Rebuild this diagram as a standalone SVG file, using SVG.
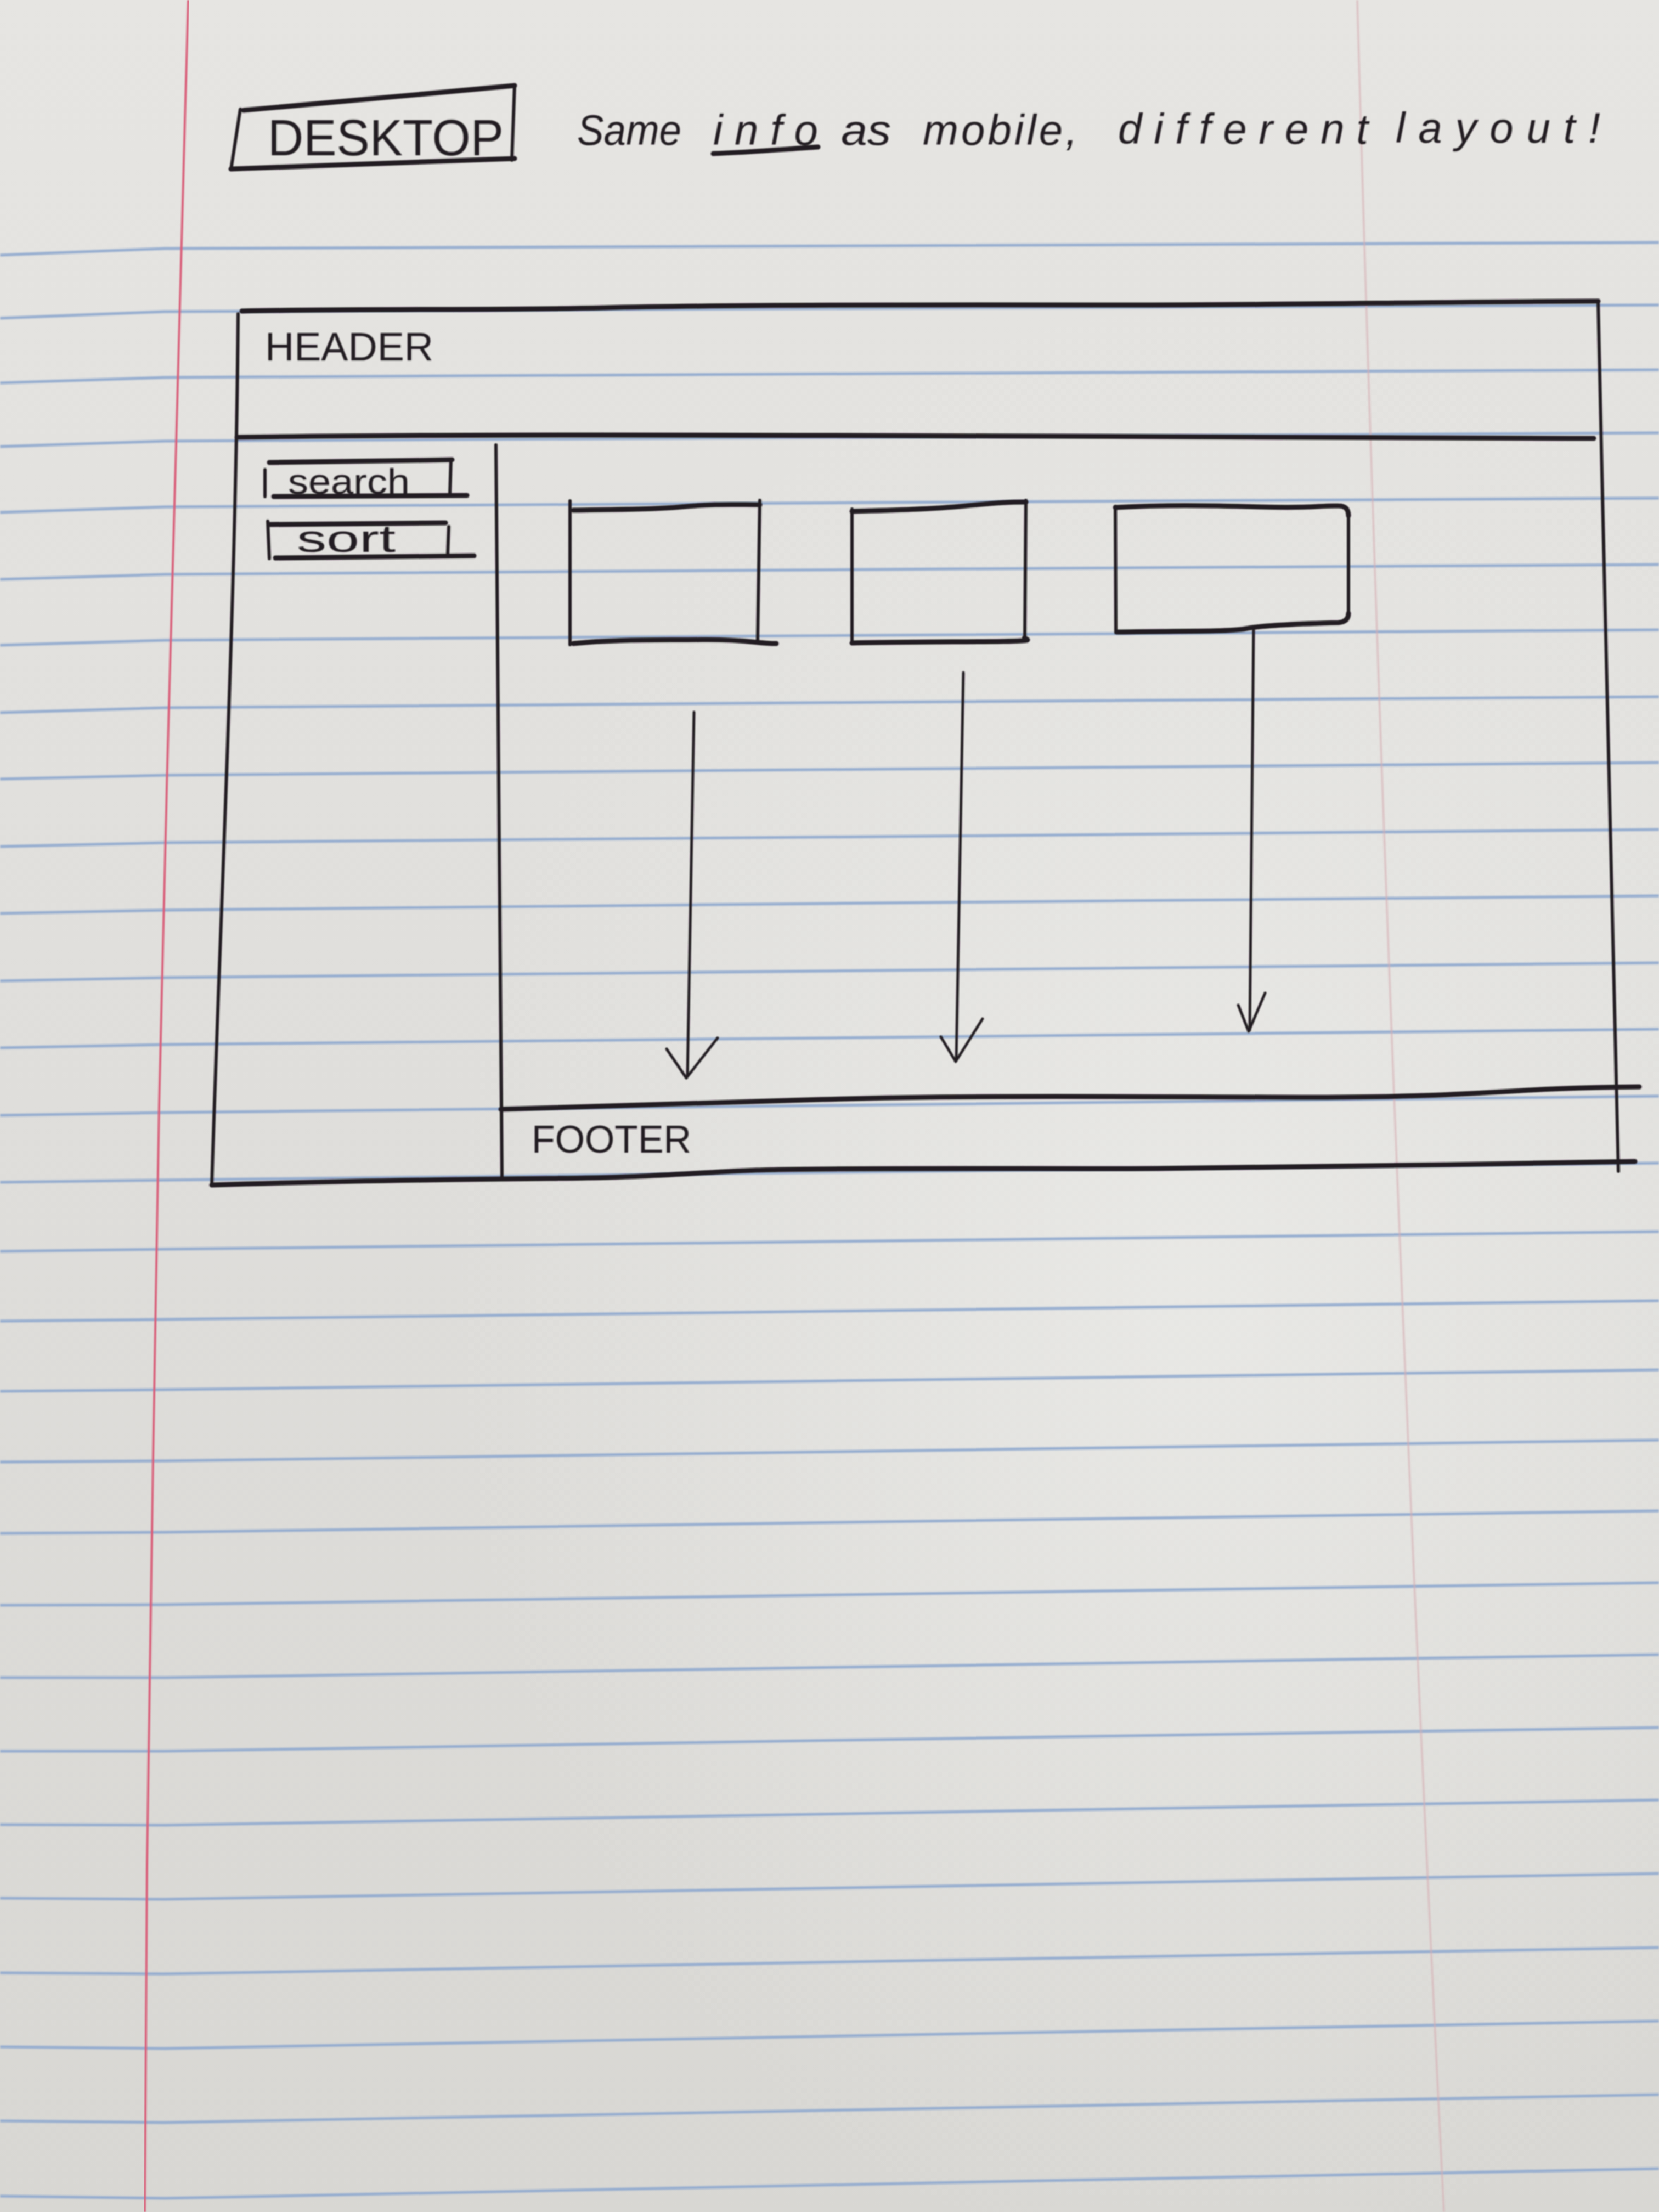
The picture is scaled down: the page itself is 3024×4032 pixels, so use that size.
<svg xmlns="http://www.w3.org/2000/svg" width="3024" height="4032" viewBox="0 0 3024 4032">
  <defs>
    <linearGradient id="paperShade" x1="0" y1="0" x2="0" y2="1">
      <stop offset="0" stop-color="#e6e5e2"/>
      <stop offset="0.5" stop-color="#dfdedb"/>
      <stop offset="1" stop-color="#d8d7d3"/>
    </linearGradient>
    <radialGradient id="paperGlow" cx="0.72" cy="0.58" r="0.45">
      <stop offset="0" stop-color="#ebebe8" stop-opacity="0.8"/>
      <stop offset="1" stop-color="#ebebe8" stop-opacity="0"/>
    </radialGradient>
    <filter id="soft" x="-2%" y="-2%" width="104%" height="104%">
      <feGaussianBlur stdDeviation="1.2"/>
    </filter>
    <filter id="softer" x="-2%" y="-2%" width="104%" height="104%">
      <feGaussianBlur stdDeviation="1.8"/>
    </filter>
  </defs>
  <style>
    .rule { fill: none; stroke: #93abcf; stroke-width: 5; stroke-linejoin: round; }
    .margin { fill: none; stroke: #d9617a; stroke-width: 4; }
    .margin-faint { fill: none; stroke: #d6aeb3; stroke-width: 3; opacity: 0.75; }
    .ink { fill: none; stroke: #221e20; stroke-linecap: round; stroke-linejoin: round; }
    .h { stroke-width: 9; }
    .v { stroke-width: 6; }
    .arrow { fill: none; stroke: #221e20; stroke-width: 5; stroke-linecap: round; stroke-linejoin: round; }
    .hand { font-family: "Liberation Sans", "DejaVu Sans", sans-serif; fill: #221e20; }
    .note { font-size: 78px; font-style: italic; }
  </style>

  <!-- paper -->
  <g id="paper">
    <rect x="0" y="0" width="3024" height="4032" fill="url(#paperShade)"/>
    <rect x="0" y="0" width="3024" height="4032" fill="url(#paperGlow)"/>
    <g id="ruling" filter="url(#softer)">
      <path class="rule" d="M0,465 L300,453 L1600,448 L3024,442"/>
      <path class="rule" d="M0,580 L300,568 L1600,562 L3024,556"/>
      <path class="rule" d="M0,698 L300,688 L1600,681 L3024,674"/>
      <path class="rule" d="M0,814 L300,804 L1600,797 L3024,789"/>
      <path class="rule" d="M0,934 L300,924 L1600,916 L3024,908"/>
      <path class="rule" d="M0,1056 L300,1047 L1600,1038 L3024,1029"/>
      <path class="rule" d="M0,1176 L300,1167 L1600,1158 L3024,1148"/>
      <path class="rule" d="M0,1299 L300,1290 L1600,1280 L3024,1270"/>
      <path class="rule" d="M0,1420 L300,1413 L1600,1402 L3024,1390"/>
      <path class="rule" d="M0,1543 L300,1536 L1600,1525 L3024,1512"/>
      <path class="rule" d="M0,1665 L300,1659 L1600,1646 L3024,1633"/>
      <path class="rule" d="M0,1788 L300,1782 L1600,1769 L3024,1755"/>
      <path class="rule" d="M0,1910 L300,1904 L1600,1891 L3024,1876"/>
      <path class="rule" d="M0,2033 L300,2028 L1600,2014 L3024,1998"/>
      <path class="rule" d="M0,2155 L300,2151 L1600,2136 L3024,2120"/>
      <path class="rule" d="M0,2281 L300,2277 L1600,2262 L3024,2245"/>
      <path class="rule" d="M0,2408 L300,2405 L1600,2389 L3024,2371"/>
      <path class="rule" d="M0,2536 L300,2533 L1600,2516 L3024,2497"/>
      <path class="rule" d="M0,2665 L300,2663 L1600,2645 L3024,2625"/>
      <path class="rule" d="M0,2795 L300,2793 L1600,2774 L3024,2754"/>
      <path class="rule" d="M0,2926 L300,2925 L1600,2906 L3024,2885"/>
      <path class="rule" d="M0,3058 L300,3058 L1600,3038 L3024,3016"/>
      <path class="rule" d="M0,3192 L300,3192 L1600,3171 L3024,3149"/>
      <path class="rule" d="M0,3326 L300,3327 L1600,3305 L3024,3281"/>
      <path class="rule" d="M0,3460 L300,3462 L1600,3440 L3024,3415"/>
      <path class="rule" d="M0,3596 L300,3598 L1600,3575 L3024,3550"/>
      <path class="rule" d="M0,3731 L300,3734 L1600,3710 L3024,3684"/>
      <path class="rule" d="M0,3866 L300,3869 L1600,3845 L3024,3818"/>
      <path class="rule" d="M0,4003 L300,4007 L1600,3981 L3024,3953"/>
    </g>
    <path class="margin" filter="url(#soft)" d="M343,0 C336,300 328,560 324,700 S296,1700 290,2016 S270,3200 268,3400 L264,4032"/>
    <path class="margin-faint" filter="url(#softer)" d="M2474,0 Q2530,2000 2632,4032"/>
  </g>

  <g id="sketch" filter="url(#soft)">
    <!-- title tag and note -->
    <g id="title">
      <path class="ink h" d="M444,201 C600,187 780,171 938,156"/>
      <path class="ink v" d="M438,199 L421,309"/>
      <path class="ink h" d="M421,308 C600,301 780,295 938,289"/>
      <path class="ink v" d="M938,156 L933,292"/>
      <text class="hand" x="488" y="283" font-size="92" textLength="430" lengthAdjust="spacingAndGlyphs">DESKTOP</text>
    </g>
    <g id="note">
      <text class="hand note" x="1052" y="264" textLength="190" lengthAdjust="spacingAndGlyphs">Same</text>
      <text class="hand note" x="1300" y="264" textLength="191" lengthAdjust="spacing">info</text>
      <text class="hand note" x="1533" y="264" textLength="91" lengthAdjust="spacingAndGlyphs">as</text>
      <text class="hand note" x="1682" y="264" textLength="282" lengthAdjust="spacing">mobile,</text>
      <text class="hand note" x="2038" y="262" textLength="456" lengthAdjust="spacing">different</text>
      <text class="hand note" x="2544" y="260" textLength="373" lengthAdjust="spacing">layout!</text>
      <path class="ink h" d="M1300,280 C1360,278 1430,272 1491,268"/>
    </g>

    <!-- outer page frame -->
    <g id="frame">
      <path class="ink h" d="M441,567 C700,562 900,566 1100,561 S1700,555 2000,556 S2600,550 2913,549"/>
      <path class="ink v" d="M434,572 C430,1100 400,1700 386,2160"/>
      <path class="ink v" d="M2913,548 C2925,1100 2940,1700 2950,2135"/>
      <path class="ink h" d="M386,2160 C600,2153 800,2150 1000,2148 S1250,2138 1379,2133 S1900,2131 2106,2130 S2700,2122 2980,2117"/>
    </g>

    <g id="header">
      <path class="ink h" d="M432,797 C900,790 1500,794 1900,795 S2600,800 2905,799"/>
      <text class="hand" x="483" y="657" font-size="72" textLength="307" lengthAdjust="spacingAndGlyphs">HEADER</text>
    </g>

    <g id="sidebar">
      <path class="ink v" d="M904,811 L915,2145"/>
    </g>

    <g id="search">
      <path class="ink h" d="M491,843 C620,842 720,840 824,838"/>
      <path class="ink v" d="M822,838 L820,900"/>
      <path class="ink h" d="M499,905 C640,904 760,904 851,903"/>
      <path class="ink v" d="M483,856 L483,905"/>
      <text class="hand" x="525" y="900" font-size="64" textLength="222" lengthAdjust="spacingAndGlyphs">search</text>
    </g>

    <g id="sort">
      <path class="ink h" d="M491,956 C620,955 720,954 812,953"/>
      <path class="ink v" d="M488,950 L491,1018"/>
      <path class="ink v" d="M818,960 L816,1012"/>
      <path class="ink h" d="M502,1017 C640,1016 760,1015 864,1013"/>
      <text class="hand" x="541" y="1006" font-size="70" textLength="180" lengthAdjust="spacingAndGlyphs">sort</text>
    </g>

    <g id="card-1">
      <path class="ink v" d="M1039,913 L1039,1175"/>
      <path class="ink h" d="M1045,930 C1120,928 1180,930 1240,924 S1340,920 1385,920"/>
      <path class="ink v" d="M1385,912 L1381,1167"/>
      <path class="ink h" d="M1045,1173 C1120,1165 1200,1167 1280,1166 S1380,1173 1415,1173"/>
    </g>

    <g id="card-2">
      <path class="ink v" d="M1553,928 L1553,1173"/>
      <path class="ink h" d="M1553,932 C1630,930 1700,928 1760,922 S1840,915 1870,915"/>
      <path class="ink v" d="M1870,912 L1868,1163"/>
      <path class="ink h" d="M1553,1172 C1650,1170 1760,1170 1830,1169 S1862,1165 1868,1162"/>
    </g>

    <g id="card-3">
      <path class="ink v" d="M2033,923 L2034,1153"/>
      <path class="ink h" d="M2033,925 C2120,920 2200,921 2300,924 S2400,921 2440,922 Q2458,922 2458,940"/>
      <path class="ink v" d="M2458,940 L2458,1118"/>
      <path class="ink h" d="M2458,1118 Q2458,1133 2440,1135 C2360,1137 2300,1140 2270,1146 S2120,1150 2036,1152"/>
    </g>

    <g id="footer">
      <path class="ink h" d="M913,2022 C1100,2017 1300,2010 1500,2004 S1900,1998 2312,2000 S2700,1984 2988,1981"/>
      <text class="hand" x="969" y="2101" font-size="70" textLength="291" lengthAdjust="spacingAndGlyphs">FOOTER</text>
    </g>

    <!-- flow arrows: cards stack downward -->
    <g id="connectors">
      <path class="arrow" d="M1265,1298 L1253,1962"/>
      <path class="arrow" d="M1215,1912 L1251,1965 L1308,1892"/>
      <path class="arrow" d="M1756,1226 L1743,1932"/>
      <path class="arrow" d="M1715,1890 L1742,1935 L1791,1857"/>
      <path class="arrow" d="M2285,1143 L2278,1878"/>
      <path class="arrow" d="M2257,1832 L2276,1880 L2306,1810"/>
    </g>
  </g>
</svg>
